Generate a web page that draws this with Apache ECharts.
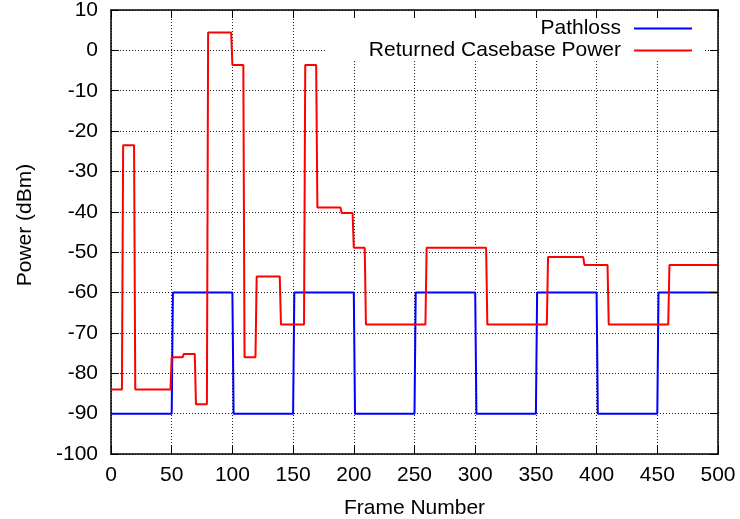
<!DOCTYPE html>
<html>
<head>
<meta charset="utf-8">
<script src="https://cdn.jsdelivr.net/npm/echarts@6/dist/echarts.min.js"></script>
<style>html,body{margin:0;padding:0;background:#fff}#c{width:740px;height:519px}</style>
</head>
<body>
<div id="c"></div>
<script>
// ---- data ----
const xTicks = [0, 50, 100, 150, 200, 250, 300, 350, 400, 450, 500];
const yTicks = [-100, -90, -80, -70, -60, -50, -40, -30, -20, -10, 0, 10];
const seriesNames = ['Pathloss', 'Returned Casebase Power'];

const pathlossFrames = [0, 50, 51, 100, 101, 150, 151, 200, 201, 250, 251, 300, 301, 350, 351, 400, 401, 450, 451, 500];
const pathlossPower  = [-90, -90, -60, -60, -90, -90, -60, -60, -90, -90, -60, -60, -90, -90, -60, -60, -90, -90, -60, -60];

const casebaseFrames = [0, 9, 10, 19, 20, 49, 50, 59, 60, 69, 70, 79, 80, 99, 100, 109, 110, 119, 120, 139, 140, 159, 160, 169, 170, 189, 190, 199, 200, 209, 210, 259, 260, 309, 310, 359, 360, 389, 390, 409, 410, 459, 460, 500];
const casebasePower  = [-84, -84, -23.5, -23.5, -84, -84, -76, -76, -75.2, -75.2, -87.7, -87.7, 4.4, 4.4, -3.6, -3.6, -76, -76, -56, -56, -67.9, -67.9, -3.6, -3.6, -38.9, -38.9, -40.3, -40.3, -48.9, -48.9, -67.9, -67.9, -48.9, -48.9, -67.9, -67.9, -51.2, -51.2, -53.2, -53.2, -67.9, -67.9, -53.2, -53.2];

// ---- chart ----
const FONT = 'Liberation Sans, Arial, sans-serif';
const pair = (xs, ys) => xs.map((x, i) => [x, ys[i]]);
const xMin = xTicks[0], xMax = xTicks[xTicks.length - 1], xInt = xTicks[1] - xTicks[0];
const yMin = yTicks[0], yMax = yTicks[yTicks.length - 1], yInt = yTicks[1] - yTicks[0];
const axisLine = { show: true, onZero: false, lineStyle: { color: '#000', width: 1.5 } };
const tick = { show: true, inside: true, length: 8, lineStyle: { color: '#000', width: 1 } };
const grid = { show: true, lineStyle: { color: '#222', width: 1, type: [1, 2] } };

const chart = echarts.init(document.getElementById('c'), null, { renderer: 'canvas' });
chart.setOption({
  animation: false,
  backgroundColor: '#fff',
  grid: { left: 111, right: 22, top: 10, bottom: 65, containLabel: false, outerBoundsMode: 'none' },
  legend: {
    orient: 'vertical',
    align: 'right',
    right: 37,
    top: 11,
    z: 1,
    padding: [7, 11, 0, 42],
    backgroundColor: '#fff',
    itemGap: 1,
    itemWidth: 58,
    itemHeight: 2,
    icon: 'rect',
    data: seriesNames,
    textStyle: { color: '#000', fontFamily: FONT, fontSize: 21, lineHeight: 20, padding: [0, 8, 0, 0] }
  },
  xAxis: [
    { type: 'value', position: 'bottom', min: xMin, max: xMax, interval: xInt, z: 0,
      name: 'Frame Number', nameLocation: 'middle', nameGap: 44,
      nameTextStyle: { color: '#000', fontFamily: FONT, fontSize: 21 },
      axisLine: axisLine, axisTick: tick, splitLine: grid,
      axisLabel: { color: '#000', fontFamily: FONT, fontSize: 21, margin: 11 } },
    { type: 'value', position: 'top', min: xMin, max: xMax, interval: xInt, z: 3,
      axisLine: axisLine, axisTick: tick, splitLine: { show: false }, axisLabel: { show: false } }
  ],
  yAxis: [
    { type: 'value', position: 'left', min: yMin, max: yMax, interval: yInt, z: 0,
      name: 'Power (dBm)', nameLocation: 'middle', nameGap: 75,
      nameTextStyle: { color: '#000', fontFamily: FONT, fontSize: 21, padding: [0, 0, 0, 14] },
      axisLine: axisLine, axisTick: tick, splitLine: grid,
      axisLabel: { color: '#000', fontFamily: FONT, fontSize: 21, margin: 13 } },
    { type: 'value', position: 'right', min: yMin, max: yMax, interval: yInt, z: 3,
      axisLine: axisLine, axisTick: tick, splitLine: { show: false }, axisLabel: { show: false } }
  ],
  series: [
    { name: seriesNames[0], type: 'line', data: pair(pathlossFrames, pathlossPower),
      showSymbol: false, symbol: 'none', color: '#0000ff', z: 2,
      lineStyle: { color: '#0000ff', width: 2 } },
    { name: seriesNames[1], type: 'line', data: pair(casebaseFrames, casebasePower),
      showSymbol: false, symbol: 'none', color: '#ff0000', z: 2,
      lineStyle: { color: '#ff0000', width: 2 } }
  ]
});
</script>
</body>
</html>
